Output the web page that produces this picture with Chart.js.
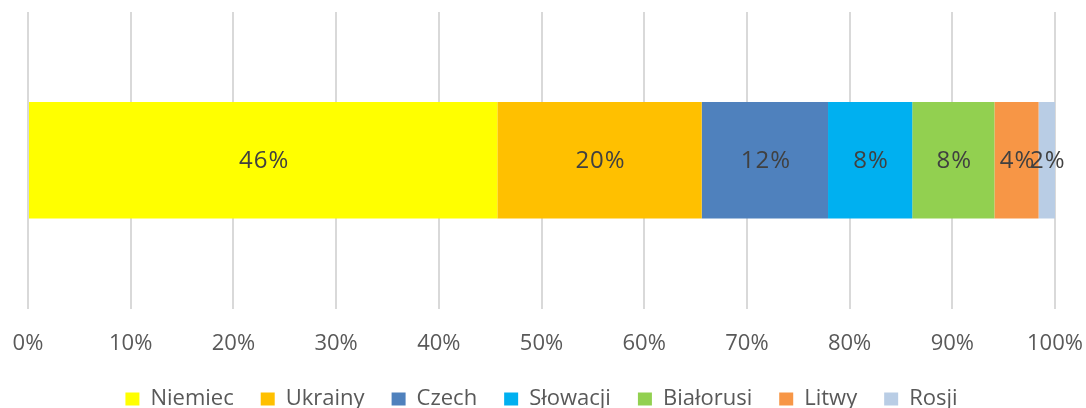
<!DOCTYPE html>
<html>
<head>
<meta charset="utf-8">
<script src="https://cdn.jsdelivr.net/npm/chart.js@4"></script>
<style>
    html, body { margin: 0; padding: 0; background: #fff; overflow: hidden; }
    #wrap { width: 1086px; height: 408px; overflow: hidden; }
</style>
</head>
<body>
<div id="wrap"><canvas id="myChart" width="1086" height="420"></canvas></div>
<script>
// data (share in %)
const categories = [""];
const countries = ["Niemiec", "Ukrainy", "Czech", "Słowacji", "Białorusi", "Litwy", "Rosji"];
const shares = [45.7, 19.9, 12.3, 8.2, 8.0, 4.3, 1.6];
const colors = ["#FFFF00", "#FFC000", "#4F81BD", "#00B0F0", "#92D050", "#F79646", "#B9CDE5"];
const tickLabels = ["0%", "10%", "20%", "30%", "40%", "50%", "60%", "70%", "80%", "90%", "100%"];

const FONT = "'Open Sans', sans-serif";

// labels in the middle of each segment
const segmentLabels = {
    id: "segmentLabels",
    afterDatasetsDraw(chart) {
        const ctx = chart.ctx;
        ctx.save();
        ctx.font = "24px " + FONT;
        ctx.fillStyle = "#404040";
        ctx.textAlign = "center";
        ctx.textBaseline = "middle";
        ctx.letterSpacing = "1px";
        chart.data.datasets.forEach(function (ds, i) {
            chart.getDatasetMeta(i).data.forEach(function (bar, j) {
                let x = (bar.x + bar.base) / 2;
                ctx.fillText(Math.round(ds.data[j]) + "%", x + 1, bar.y + 1);
            });
        });
        ctx.restore();
    }
};

const ctx = document.getElementById("myChart");
const myChart = new Chart(ctx, {
    type: "bar",
    data: {
        labels: categories,
        datasets: countries.map(function (name, i) {
            return {
                label: name,
                data: [shares[i]],
                backgroundColor: colors[i],
                borderWidth: 0,
                barPercentage: 0.3925,
                categoryPercentage: 1
            };
        })
    },
    options: {
        indexAxis: "y",
        responsive: false,
        animation: false,
        layout: { padding: { left: 28, right: 31, top: 12, bottom: 0 } },
        scales: {
            x: {
                stacked: true,
                min: 0,
                max: 100,
                border: { display: false },
                grid: { color: "#d9d9d9", lineWidth: 2, drawTicks: false },
                ticks: {
                    stepSize: 10,
                    padding: 22,
                    color: "#595959",
                    font: { family: FONT, size: 22 },
                    callback: function (v) { return tickLabels[Math.round(v / 10)]; }
                },
                afterFit: function (scale) {
                    // let layout padding decide the side margins
                    scale.paddingLeft = 0;
                    scale.paddingRight = 0;
                    scale.height -= 18;
                }
            },
            y: { stacked: true, display: false }
        },
        plugins: {
            legend: {
                position: "bottom",
                labels: {
                    boxWidth: 14,
                    boxHeight: 13,
                    padding: 27,
                    color: "#595959",
                    font: { family: FONT, size: 22 }
                }
            },
            tooltip: { enabled: false }
        }
    },
    plugins: [segmentLabels]
});
</script>
</body>
</html>
